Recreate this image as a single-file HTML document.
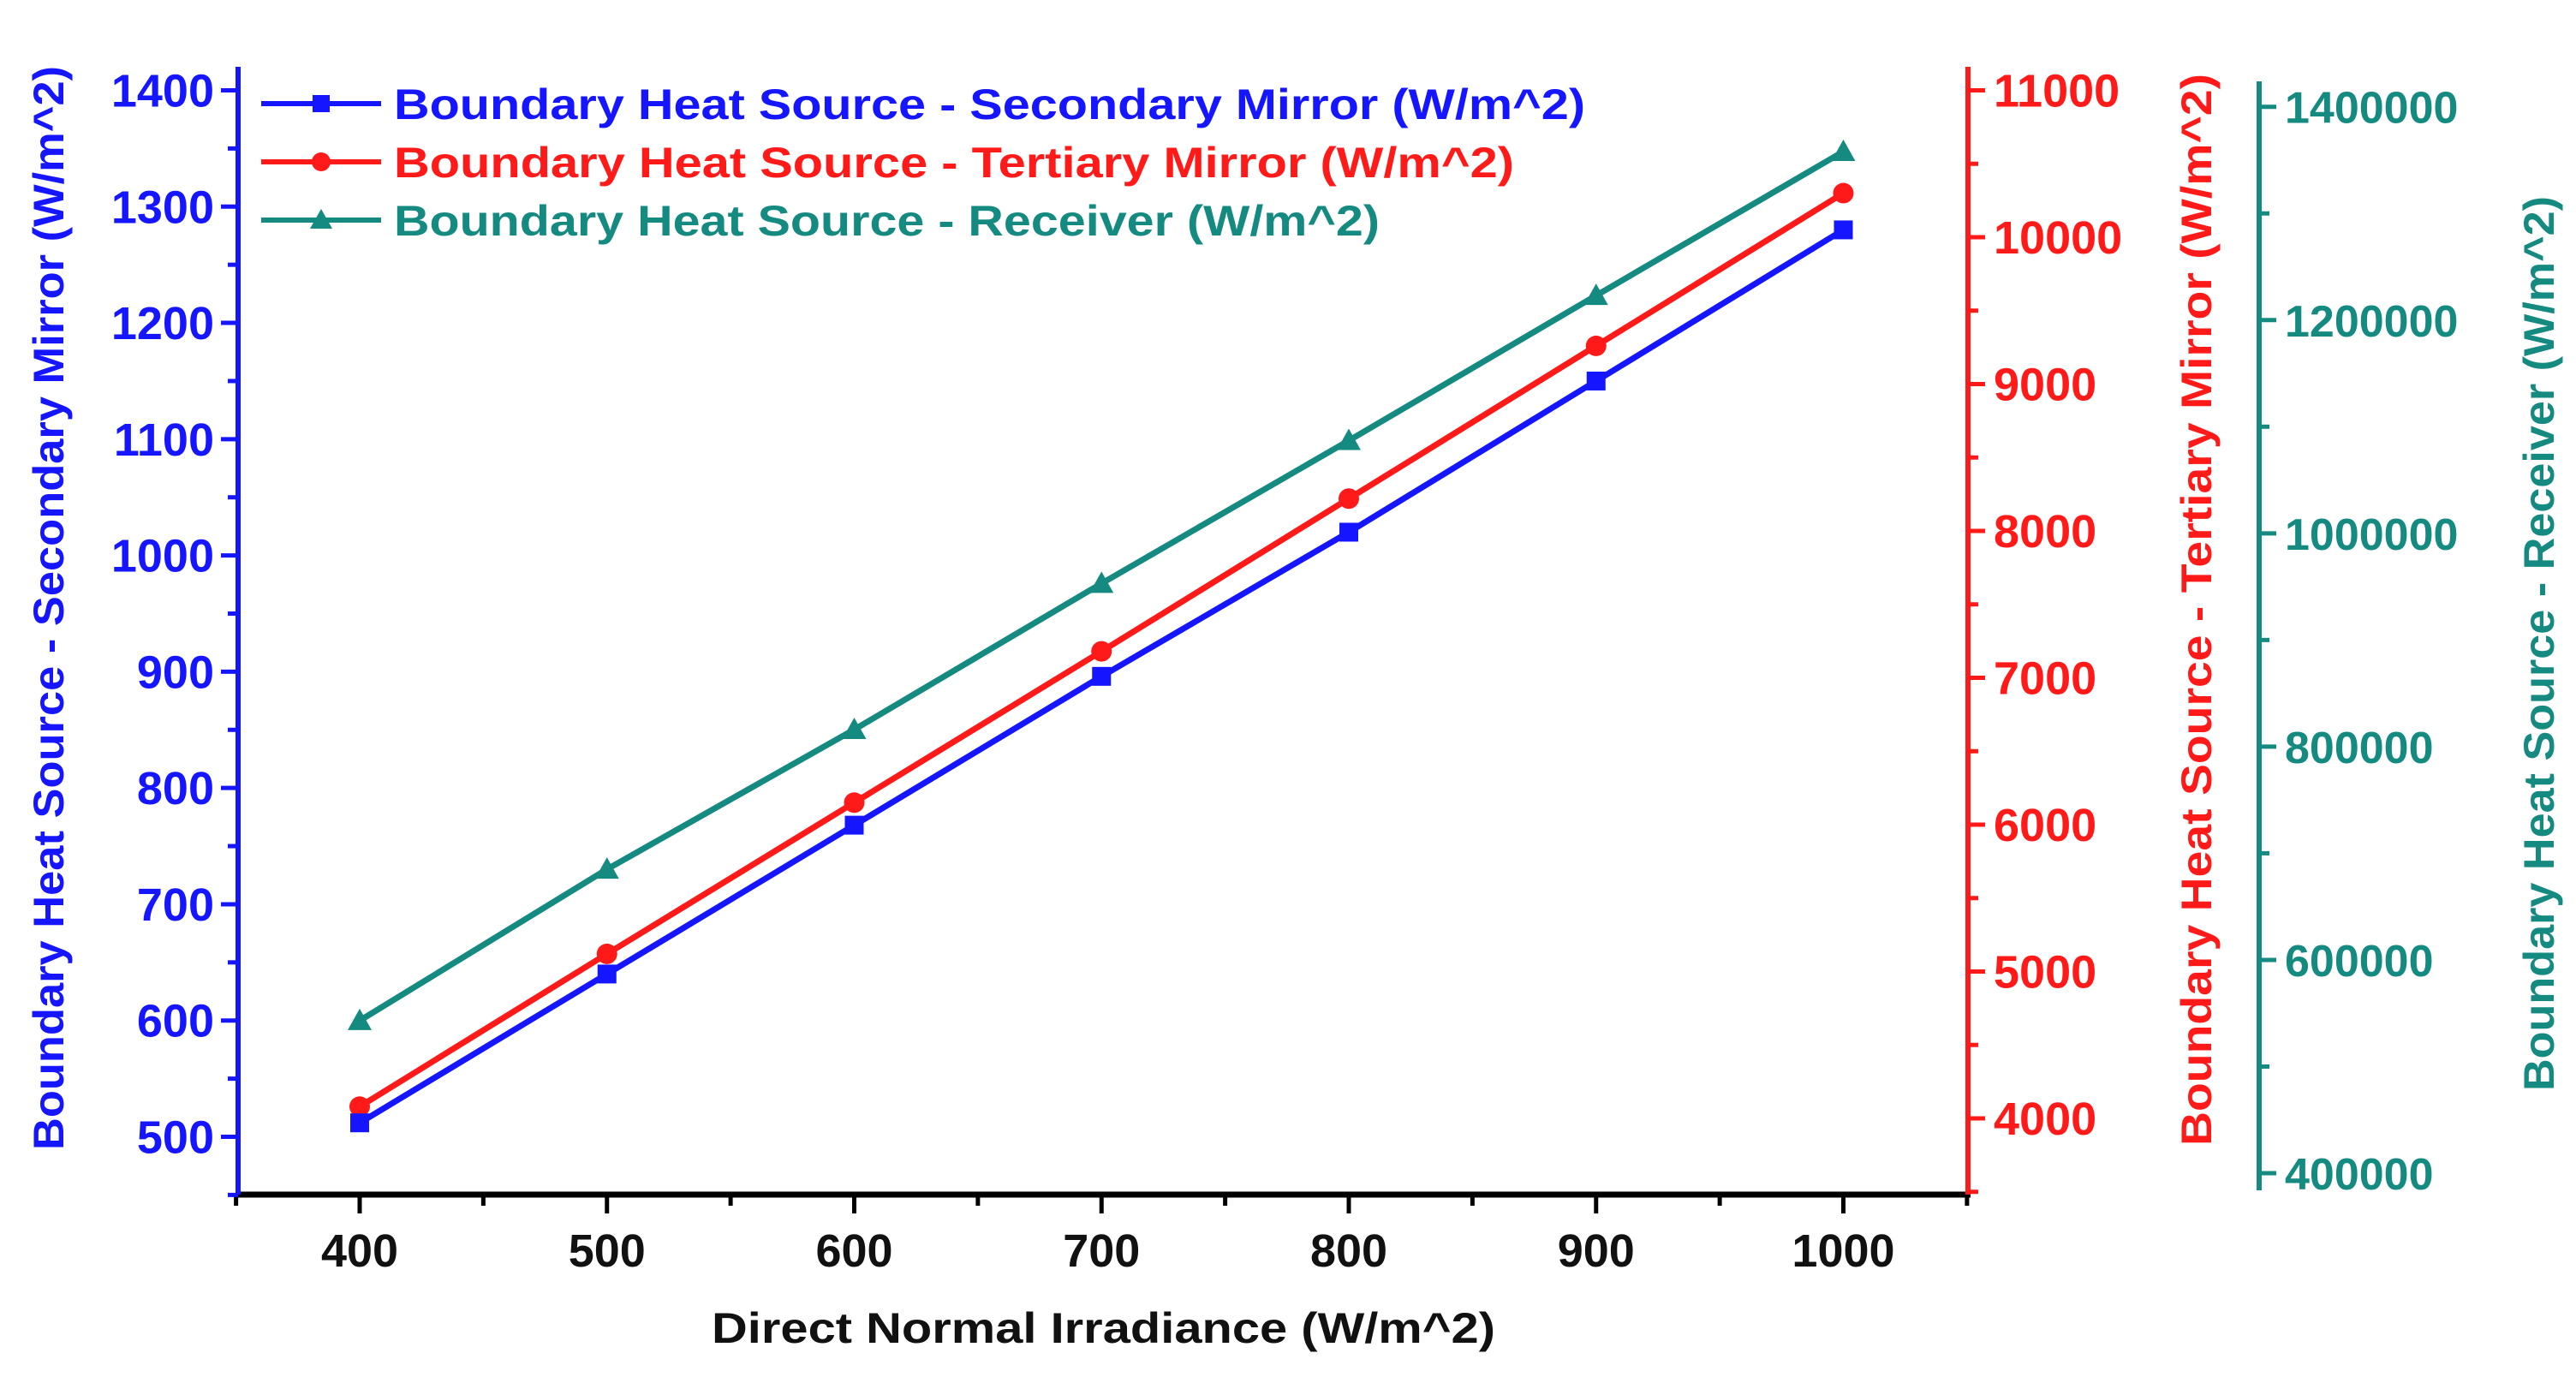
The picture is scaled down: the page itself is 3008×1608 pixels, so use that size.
<!DOCTYPE html>
<html><head><meta charset="utf-8"><style>
html,body{margin:0;padding:0;background:#fff;width:3008px;height:1608px;overflow:hidden}
svg text{font-family:"Liberation Sans",Arial,sans-serif;font-weight:bold}
</style></head><body>
<svg id="chart" width="3008" height="1608" viewBox="0 0 3008 1608" xmlns="http://www.w3.org/2000/svg"></svg>
<script>
const categories=[400,500,600,700,800,900,1000];
const secondaryValues=[512,640,768,896,1020,1150,1280];
const tertiaryValues=[4080,5120,6150,7180,8220,9260,10300];
const receiverValues=[543000,685000,816000,953000,1087000,1223000,1358000];
const xTicks=[400,500,600,700,800,900,1000];
const leftTicks=[500,600,700,800,900,1000,1100,1200,1300,1400];
const redTicks=[4000,5000,6000,7000,8000,9000,10000,11000];
const tealTicks=[400000,600000,800000,1000000,1200000,1400000];

const NS='http://www.w3.org/2000/svg';
const svg=document.getElementById('chart');
const BLUE='#1515ff',RED='#ff1a1a',TEAL='#148a80';
const X0=278,X1=2298,Y0=1395,TEALX=2638;
const xs=v=>420+(v-400)*(2152.5-420)/600;
const yL=v=>1327.5-(v-500)*(1327.5-105.5)/900;
const yR=v=>1306-(v-4000)*(1306-105.5)/7000;
const yT=v=>1370-(v-400000)*(1370-124.7)/1000000;
function el(tag,attrs,parent){const e=document.createElementNS(NS,tag);for(const k in attrs)e.setAttribute(k,attrs[k]);(parent||svg).appendChild(e);return e;}
function txt(s,attrs,parent){const t=el('text',attrs,parent);t.textContent=s;return t;}

let g=el('g',{});


el('line',{x1:X0-3,y1:Y0,x2:X1+3,y2:Y0,stroke:'#000','stroke-width':7},g);
xTicks.forEach(v=>{el('line',{x1:xs(v),y1:Y0,x2:xs(v),y2:Y0+22,stroke:'#000','stroke-width':5},g);
 const t=txt(v,{x:xs(v),y:Y0+84,'text-anchor':'middle','font-size':54,fill:'#111'},g);
 
 });
for(let v=350;v<=1050;v+=100){el('line',{x1:xs(v),y1:Y0,x2:xs(v),y2:Y0+13,stroke:'#000','stroke-width':5},g);}
let xt=txt('Direct Normal Irradiance (W/m^2)',{x:831,y:1568,'font-size':50,fill:'#111',textLength:915,lengthAdjust:'spacingAndGlyphs'});



g=el('g',{});


el('line',{x1:X0,y1:78,x2:X0,y2:Y0,stroke:BLUE,'stroke-width':6},g);
leftTicks.forEach(v=>{el('line',{x1:X0,y1:yL(v),x2:X0-20,y2:yL(v),stroke:BLUE,'stroke-width':5},g);
 const t=txt(v,{x:X0-28,y:yL(v)+19,'text-anchor':'end','font-size':54,fill:BLUE},g);
 
 });
for(let v=450;v<=1350;v+=100){el('line',{x1:X0,y1:yL(v),x2:X0-12,y2:yL(v),stroke:BLUE,'stroke-width':5},g);}
let lt=txt('Boundary Heat Source - Secondary Mirror (W/m^2)',{x:-633,y:0,'font-size':50,fill:BLUE,textLength:1266,lengthAdjust:'spacingAndGlyphs',transform:'translate(74,710) rotate(-90)'});



g=el('g',{});


el('line',{x1:X1,y1:78,x2:X1,y2:Y0,stroke:RED,'stroke-width':6},g);
redTicks.forEach(v=>{el('line',{x1:X1,y1:yR(v),x2:X1+20,y2:yR(v),stroke:RED,'stroke-width':5},g);
 const t=txt(v,{x:X1+30,y:yR(v)+19,'font-size':54,fill:RED},g);
 
 });
for(let v=3500;v<=10500;v+=1000){el('line',{x1:X1,y1:yR(v),x2:X1+12,y2:yR(v),stroke:RED,'stroke-width':5},g);}
let rt=txt('Boundary Heat Source - Tertiary Mirror (W/m^2)',{x:-626,y:0,'font-size':50,fill:RED,textLength:1252,lengthAdjust:'spacingAndGlyphs',transform:'translate(2582,712) rotate(-90)'});



g=el('g',{});


el('line',{x1:TEALX,y1:95,x2:TEALX,y2:1390,stroke:TEAL,'stroke-width':6},g);
tealTicks.forEach(v=>{el('line',{x1:TEALX,y1:yT(v),x2:TEALX+20,y2:yT(v),stroke:TEAL,'stroke-width':5},g);
 const t=txt(v,{x:TEALX+30,y:yT(v)+19,'font-size':52,fill:TEAL},g);
 
 });
for(let v=300000;v<=1500000;v+=200000){if(yT(v)>95&&yT(v)<1390)el('line',{x1:TEALX,y1:yT(v),x2:TEALX+12,y2:yT(v),stroke:TEAL,'stroke-width':5},g);}
let tt=txt('Boundary Heat Source - Receiver (W/m^2)',{x:-522,y:0,'font-size':50,fill:TEAL,textLength:1045,lengthAdjust:'spacingAndGlyphs',transform:'translate(2982,752) rotate(-90)'});



function series(vals,yf,color,marker,name){
 const sg=el('g',{});
 
 
 el('polyline',{points:vals.map((v,i)=>xs(categories[i])+','+yf(v)).join(' '),fill:'none',stroke:color,'stroke-width':7},sg);
 vals.forEach((v,i)=>{const x=xs(categories[i]),y=yf(v);let m;
  if(marker==='square')m=el('rect',{x:x-11,y:y-11,width:22,height:22,fill:color},sg);
  else if(marker==='circle')m=el('circle',{cx:x,cy:y,r:12,fill:color},sg);
  else m=el('polygon',{points:`${x},${y-14} ${x-14},${y+11} ${x+14},${y+11}`,fill:color},sg);
  
  });
}
series(receiverValues,yT,TEAL,'triangle','receiver-series');
series(tertiaryValues,yR,RED,'circle','tertiary-series');
series(secondaryValues,yL,BLUE,'square','secondary-series');

const legend=[['Boundary Heat Source - Secondary Mirror (W/m^2)',BLUE,'square',1391],['Boundary Heat Source - Tertiary  Mirror (W/m^2)',RED,'circle',1308],['Boundary Heat Source - Receiver (W/m^2)',TEAL,'triangle',1151]];
const lg=el('g',{});


legend.forEach((l,i)=>{const y=121+i*68;const eg=el('g',{},lg);
 
 
 el('line',{x1:305,y1:y,x2:445,y2:y,stroke:l[1],'stroke-width':6},eg);
 const x=375;
 if(l[2]==='square')el('rect',{x:x-10,y:y-10,width:20,height:20,fill:l[1]},eg);
 else if(l[2]==='circle')el('circle',{cx:x,cy:y,r:11,fill:l[1]},eg);
 else el('polygon',{points:`${x},${y-13} ${x-13},${y+10} ${x+13},${y+10}`,fill:l[1]},eg);
 txt(l[0],{x:460,y:y+18,'font-size':50,fill:l[1],'xml:space':'preserve',textLength:l[3],lengthAdjust:'spacingAndGlyphs'},eg);});
</script>
</body></html>
